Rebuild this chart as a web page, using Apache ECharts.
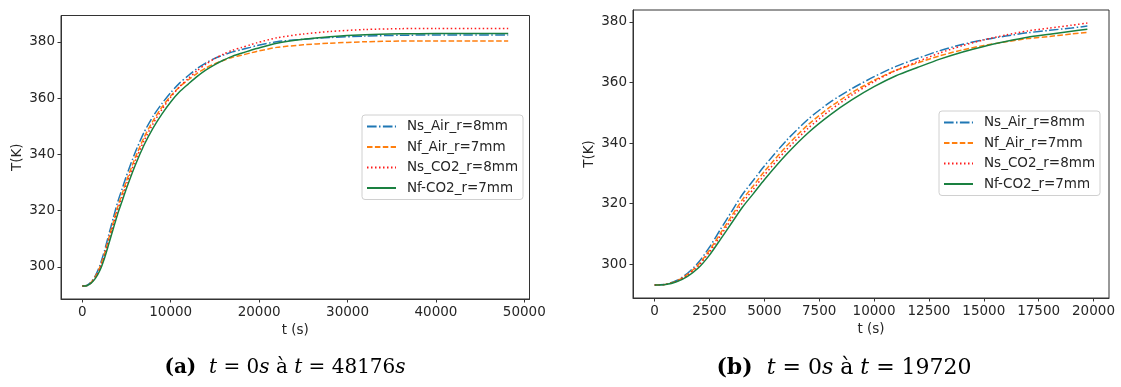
<!DOCTYPE html>
<html><head><meta charset="utf-8">
<script src="https://cdn.jsdelivr.net/npm/echarts@6/dist/echarts.min.js"></script>
<style>html,body{margin:0;padding:0;background:#fff}#c{width:1121px;height:387px}</style>
</head><body><div id="c"></div>
<script>
// time (s)
const time = [0, 500, 1000, 1500, 2000, 2500, 3000, 3500, 4000, 4500, 5000, 6000, 7000, 8000, 9000, 10000, 11000, 12000, 13000, 14000, 15000, 16000, 17000, 18000, 19000, 19720, 22000, 25000, 28000, 32000, 36000, 40000, 44000, 48176];
// temperatures (K)
const nsAir = [293.15, 293.35, 294.6, 297.0, 300.6, 305.6, 311.5, 317.3, 323.0, 327.7, 332.4, 340.8, 347.9, 353.5, 358.0, 361.9, 365.3, 368.0, 370.5, 372.5, 374.1, 375.3, 376.4, 377.2, 378.0, 378.6, 380.0, 380.9, 381.5, 382.0, 382.3, 382.4, 382.4, 382.4];
const nfAir = [293.15, 293.33, 294.45, 296.6, 299.9, 304.6, 310.2, 315.8, 321.3, 325.9, 330.6, 338.9, 346.1, 351.9, 356.7, 360.7, 364.0, 366.5, 368.8, 370.7, 372.2, 373.4, 374.5, 375.2, 376.0, 376.55, 378.0, 378.9, 379.5, 380.0, 380.25, 380.3, 380.3, 380.3];
const nsCO2 = [293.15, 293.32, 294.35, 296.4, 299.5, 304.0, 309.4, 314.85, 320.25, 324.8, 329.4, 337.7, 344.9, 350.85, 355.9, 360.3, 364.0, 366.95, 369.75, 372.1, 374.05, 375.65, 377.0, 377.95, 378.9, 379.6, 381.4, 382.75, 383.65, 384.35, 384.65, 384.75, 384.75, 384.75];
const nfCO2 = [293.15, 293.3, 294.2, 296.0, 298.8, 303.0, 308.2, 313.5, 318.8, 323.3, 327.9, 336.2, 343.4, 349.3, 354.3, 358.6, 362.2, 365.0, 367.7, 370.0, 371.9, 373.5, 374.9, 375.9, 376.9, 377.6, 379.5, 380.9, 381.8, 382.5, 382.8, 382.9, 382.9, 382.9];
const seriesNames = ['Ns_Air_r=8mm', 'Nf_Air_r=7mm', 'Ns_CO2_r=8mm', 'Nf-CO2_r=7mm'];
const xTicksA = [0, 10000, 20000, 30000, 40000, 50000];
const xTicksB = [0, 2500, 5000, 7500, 10000, 12500, 15000, 17500, 20000];
const yTicks = [300, 320, 340, 360, 380];
const endB = 19720;

const values = [nsAir, nfAir, nsCO2, nfCO2];
const styles = [
  {color: '#1f77b4', type: [9.6, 2.4, 1.5, 2.4]},
  {color: '#ff7f0e', type: [5.5, 2.4]},
  {color: '#ff1a1a', type: [1.5, 2.5]},
  {color: '#1a8040', type: 'solid'}
];
const FONT = 'DejaVu Sans';
const TXT = '#262626';
const AX = '#333';

function xAxis(gi, min, max, ticks) {
  return {
    type: 'value', gridIndex: gi, min: min, max: max,
    name: 't (s)', nameLocation: 'middle', nameGap: 24,
    nameTextStyle: {fontFamily: FONT, fontSize: 13.5, color: TXT},
    axisLine: {show: true, onZero: false, lineStyle: {color: AX, width: 1}}, splitLine: {show: false},
    axisTick: {show: true, inside: false, length: 3.5, customValues: ticks, lineStyle: {color: AX, width: 1}},
    axisLabel: {customValues: ticks, margin: 6, fontFamily: FONT, fontSize: 13.5, color: TXT,
      formatter: v => String(v)}
  };
}
function yAxis(gi, min, max) {
  return {
    type: 'value', gridIndex: gi, min: min, max: max,
    name: 'T(K)', nameLocation: 'middle', nameGap: 37, nameRotate: 90,
    nameTextStyle: {fontFamily: FONT, fontSize: 13.5, color: TXT},
    axisLine: {show: true, onZero: false, lineStyle: {color: AX, width: 1}}, splitLine: {show: false},
    axisTick: {show: true, inside: false, length: 3.5, customValues: yTicks, lineStyle: {color: AX, width: 1}},
    axisLabel: {customValues: yTicks, margin: 6, fontFamily: FONT, fontSize: 13.5, color: TXT,
      formatter: v => String(v)}
  };
}
function legend(left, top) {
  return {
    left: left, top: top, orient: 'vertical', itemWidth: 29, itemHeight: 14, itemGap: 6.5,
    padding: [4.5, 5, 4.5, 4], borderColor: '#d0d0d0', borderWidth: 1, borderRadius: 3,
    backgroundColor: '#fff', selectedMode: false,
    itemStyle: {opacity: 0},
    textStyle: {fontFamily: FONT, fontSize: 13.5, color: TXT, padding: [0, 0, 0, 6]},
    data: seriesNames
  };
}
const series = [];
[0, 1].forEach(gi => {
  values.forEach((vals, k) => {
    const pts = [];
    time.forEach((t, i) => { if (gi === 0 || t <= endB) pts.push([t, vals[i]]); });
    series.push({
      type: 'line', name: seriesNames[k], xAxisIndex: gi, yAxisIndex: gi,
      data: pts, showSymbol: false, symbol: 'none', smooth: 0.25, animation: false,
      lineStyle: {color: styles[k].color, width: 1.5, type: styles[k].type, cap: 'butt'},
      itemStyle: {color: styles[k].color}, z: 2 + k
    });
  });
});

function capRich(size) {
  return {
    b: {fontWeight: 'bold', fontFamily: 'DejaVu Serif', fontSize: size, color: '#111'},
    i: {fontStyle: 'italic', fontFamily: 'DejaVu Serif', fontSize: size, color: '#111'},
    n: {fontFamily: 'DejaVu Serif', fontSize: size, color: '#111'}
  };
}

const chart = echarts.init(document.getElementById('c'), null, {renderer: 'canvas'});
chart.setOption({
  animation: false,
  backgroundColor: '#fff',
  grid: [
    {left: 61, top: 15.5, width: 468.5, height: 283.5, show: true, borderColor: AX, borderWidth: 1, backgroundColor: 'transparent'},
    {left: 633, top: 10, width: 476, height: 288, show: true, borderColor: AX, borderWidth: 1, backgroundColor: 'transparent'}
  ],
  xAxis: [xAxis(0, -2409, 50585, xTicksA), xAxis(1, -986, 20706, xTicksB)],
  yAxis: [yAxis(0, 288.57, 389.33), yAxis(1, 288.83, 383.92)],
  legend: [legend(362, 115), legend(939, 111)],
  series: series,
  graphic: [
    {type: 'text', x: 285, y: 368, style: {
      text: '{b|(a)}{n|  }{i|t}{n| = 0}{i|s}{n| à }{i|t}{n| = 48176}{i|s}', align: 'center', verticalAlign: 'middle',
      rich: capRich(20)
    }},
    {type: 'text', x: 844, y: 368, style: {
      text: '{b|(b)}{n|  }{i|t}{n| = 0}{i|s}{n| à }{i|t}{n| = 19720}', align: 'center', verticalAlign: 'middle',
      rich: capRich(22)
    }}
  ]
});
</script></body></html>
